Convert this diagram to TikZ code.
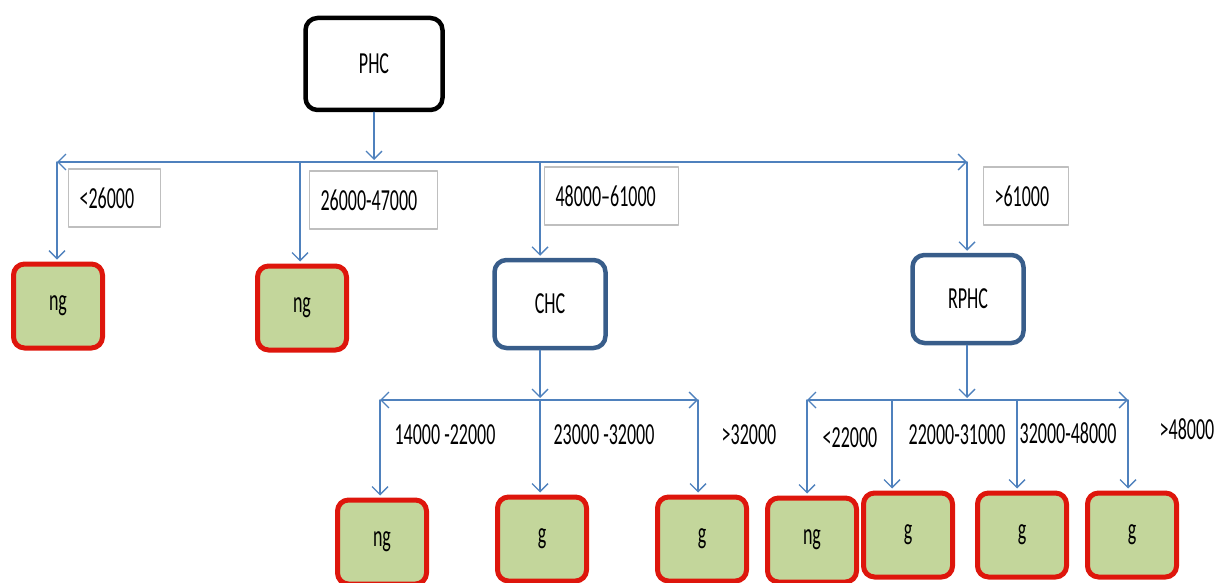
\documentclass[tikz,border=0pt]{standalone}
\usepackage{fontspec}
\setmainfont{Carlito}
\usepackage{graphicx}
\usetikzlibrary{arrows.meta,positioning}
\definecolor{fg}{RGB}{0,0,0}
\definecolor{flow}{RGB}{79,129,189}
\definecolor{leafred}{RGB}{222,22,12}
\definecolor{leaffill}{RGB}{195,214,155}
\definecolor{inner}{RGB}{56,93,138}
\definecolor{frame}{RGB}{191,191,191}
\newcommand{\tl}[1]{\scalebox{1}[1.7]{#1}}
\tikzset{
  every picture/.style={line cap=round, line join=round,
    >={Straight Barb[length=8pt,width=16pt]}},
  every node/.style={font=\fontsize{18}{20}\selectfont},
  % Verbindungen
  link/.style={flow, line width=1.4pt, ->, shorten >=2pt},
  bus/.style={flow, line width=1.4pt, <->},
  % Kästen
  rootbox/.style={draw=fg, line width=4.5pt, rounded corners=12pt,
    minimum width=137pt, minimum height=92pt},
  midbox/.style={draw=inner, line width=4.5pt, rounded corners=12pt,
    minimum width=111pt, minimum height=88pt},
  leaf/.style={draw=leafred, fill=leaffill, line width=5pt, rounded corners=11pt,
    minimum width=89pt, minimum height=84pt},
  % Beschriftungen
  lbl/.style={draw=frame, line width=1.2pt, minimum height=58pt,
    text width=#1, align=left, inner xsep=11pt, anchor=west},
  txt/.style={inner sep=0pt},
}
\begin{document}
\begin{tikzpicture}[x=1pt, y=-1pt]
  \useasboundingbox (0,0) rectangle (1216,583);
  % Wurzel und erste Ebene
  \node[rootbox] (phc) at (374,64) {\tl{PHC}};
  \node[leaf] (ng1) at (58,306) {\tl{ng}};
  \node[leaf] (ng2) at (302,308) {\tl{ng}};
  \node[midbox] (chc) at (550,304) {\tl{CHC}};
  \node[midbox] (rphc) at (968,299) {\tl{RPHC}};
  \coordinate (b0) at (374,162);
  \coordinate (b0l) at (57,162);
  \coordinate (b0b) at (300,162);
  \coordinate (b0c) at (540,162);
  \coordinate (b0r) at (967,162);
  \draw[bus] (b0l) -- (b0r);
  \draw[link] (phc.south) -- (b0);
  \draw[link] (b0l) -- (b0l |- ng1.north);
  \draw[link] (b0b) -- (b0b |- ng2.north);
  \draw[link] (b0c) -- (b0c |- chc.north);
  \draw[link] (b0r) -- (b0r |- rphc.north);
  \node[lbl=70pt] (l1) at (68,198) {\tl{<26000}};
  \node[lbl=106pt] (l2) at (309,200) {\tl{26000-47000}};
  \node[lbl=112pt] (l3) at (544,196) {\tl{48000--61000}};
  \node[lbl=63pt] (l4) at (983,196) {\tl{>61000}};
  % unter CHC
  \node[leaf] (ng3) at (382,542) {\tl{ng}};
  \node[leaf] (g1) at (542,539) {\tl{g}};
  \node[leaf] (g2) at (702,539) {\tl{g}};
  \coordinate (c0) at (540,400);
  \coordinate (c0l) at (380,400);
  \coordinate (c0r) at (698,400);
  \draw[bus] (c0l) -- (c0r);
  \draw[link] (c0 |- chc.south) -- (c0);
  \draw[link] (c0l) -- (c0l |- ng3.north);
  \draw[link] (c0) -- (c0 |- g1.north);
  \draw[link] (c0r) -- (c0r |- g2.north);
  \node[txt] (t1) at (445,435) {\tl{14000 -22000}};
  \node[txt] (t2) at (604,435) {\tl{23000 -32000}};
  \node[txt] (t3) at (749,435) {\tl{>32000}};
  % unter RPHC
  \node[leaf] (ng4) at (812,540) {\tl{ng}};
  \node[leaf] (g3) at (908,535) {\tl{g}};
  \node[leaf] (g4) at (1022,535) {\tl{g}};
  \node[leaf] (g5) at (1132,535) {\tl{g}};
  \coordinate (r0) at (967,400);
  \coordinate (r0l) at (807,400);
  \coordinate (r0b) at (892,400);
  \coordinate (r0c) at (1017,400);
  \coordinate (r0r) at (1128,400);
  \draw[bus] (r0l) -- (r0r);
  \draw[link] (r0 |- rphc.south) -- (r0);
  \draw[link] (r0l) -- (r0l |- ng4.north);
  \draw[link] (r0b) -- (r0b |- g3.north);
  \draw[link] (r0c) -- (r0c |- g4.north);
  \draw[link] (r0r) -- (r0r |- g5.north);
  \node[txt] (t4) at (850,438) {\tl{<22000}};
  \node[txt] (t5) at (957,435) {\tl{22000-31000}};
  \node[txt] (t6) at (1068,433) {\tl{32000-48000}};
  \node[txt] (t7) at (1187,429) {\tl{>48000}};
\end{tikzpicture}
\end{document}
